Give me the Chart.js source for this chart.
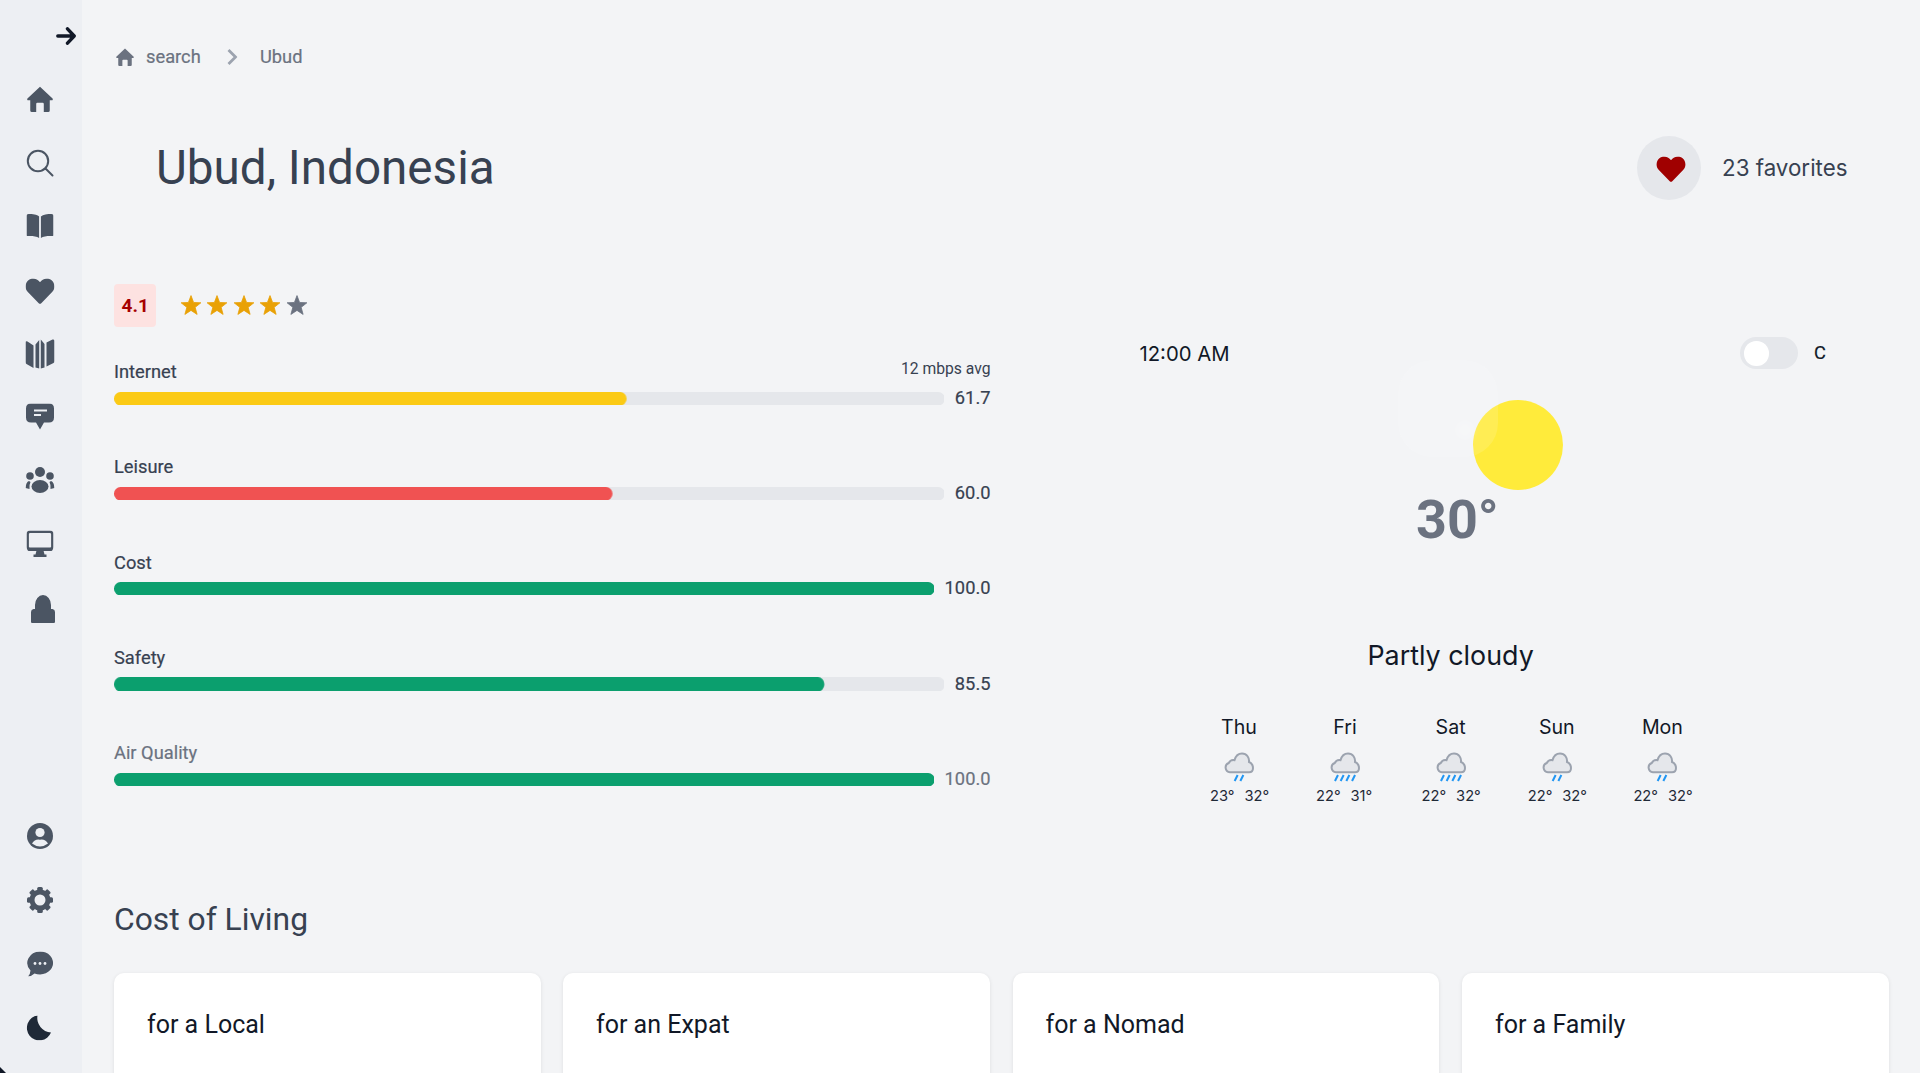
<!DOCTYPE html>
<html><head><meta charset="utf-8">
<script src="https://cdn.jsdelivr.net/npm/chart.js@4"></script>
<style>
html,body{margin:0;padding:0;width:1920px;height:1073px;overflow:hidden;background:#f3f4f6;font-family:Roboto,sans-serif;}
#side{position:absolute;left:0;top:0;width:82px;height:1073px;background:#edeff3;}
.t{position:absolute;line-height:1;white-space:nowrap;transform:translateY(-50%);}
.i{position:absolute;display:block;transform:translate(-50%,-50%);}
.row{position:absolute;left:114px;width:876.5px;height:14px;display:flex;align-items:center;}
.bar{flex:1;position:relative;height:13.4px;min-width:0;}
.val{margin-left:11px;font-size:18.3px;font-weight:400;-webkit-text-stroke:.2px currentColor;color:#374151;line-height:1;position:relative;top:-.5px;}
.card{position:absolute;top:973px;width:426.5px;height:140px;background:#fff;border-radius:10px;box-shadow:0 1px 4px rgba(0,0,0,.09);}
.in{font-family:Inter,sans-serif;}
</style></head><body>
<div id="side"></div>
<div id="page"></div>
<script>
const categories=['Internet','Leisure','Cost','Safety','Air Quality'];
const scores=[61.7,60.0,100.0,85.5,100.0];
const barColors=['#fbca15','#f05252','#0b9f6e','#0b9f6e','#0b9f6e'];
const labelColors=['#374151','#374151','#374151','#374151','#6b7280'];
const rowTops=[392,487,582,677.5,773];
const labelCenters=[372,467,562.5,657.5,753];
const days=['Thu','Fri','Sat','Sun','Mon'];
const dayLows=['23°','22°','22°','22°','22°'];
const dayHighs=['32°','31°','32°','32°','32°'];
const dayRain=[2,4,4,2,2];
const cards=['for a Local','for an Expat','for a Nomad','for a Family'];

const G='#4b5563';
const H='M462.3 62.6C407.5 15.9 326 24.3 275.7 76.2L256 96.5l-19.7-20.3C186.1 24.3 104.5 15.9 49.7 62.6c-62.8 53.6-66.1 149.8-9.9 207.9l193.5 199.8c12.5 12.9 32.8 12.9 45.3 0l193.5-199.8c56.3-58.1 53-154.3-9.8-207.9z';
const HOME='M12 .6 23.6 11.6Q24.4 13.200 22.500 13.200H21V22.500Q21 24 19.500 24H15.500V16.500Q15.500 15.500 14.500 15.500H9.500Q8.500 15.500 8.500 16.500V24H4.500Q3 24 3 22.500V13.200H1.500Q-.4 13.200 .4 11.600Z';
function svg(cx,cy,w,h,vb,inner){return `<svg class="i" style="left:${cx}px;top:${cy}px" width="${w}" height="${h}" viewBox="${vb}">${inner}</svg>`;}
function path(d,c,extra){return `<path d="${d}" fill="${c}" ${extra||''}/>`;}
function txt(s,x,y,size,color,extra){return `<div class="t" style="left:${x}px;top:${y}px;font-size:${size}px;color:${color};${extra||''}">${s}</div>`;}
function star(cx,cy,c){let p=[];for(let k=0;k<10;k++){const r=k%2?4.4:10.4,a=-Math.PI/2+k*Math.PI/5;p.push((r*Math.cos(a)).toFixed(2)+','+(r*Math.sin(a)).toFixed(2));}
  return svg(cx,cy,22,22,'-11 -11 22 22',`<polygon points="${p.join(' ')}" fill="${c}" stroke="${c}" stroke-width=".8" stroke-linejoin="round"/>`);}

let h='';
// sidebar icons
h+=svg(66,35.5,20,18,'0 0 20 18',`<path d="M1.8 9H18M11.500 1.800 18.200 9l-6.700 7.200" fill="none" stroke="#111827" stroke-width="3.400" stroke-linecap="round" stroke-linejoin="round"/>`);
h+=svg(40,98.5,26,26,'0 0 24 24',path(HOME,G));
h+=svg(40,163,28,28,'0 0 28 28',`<circle cx="12" cy="12" r="10.2" fill="none" stroke="${G}" stroke-width="2"/><path d="M19.5 19.5 26.5 26.5" stroke="${G}" stroke-width="2" stroke-linecap="round"/>`);
h+=svg(40,226,27,25,'0 0 27 25',`<path d="M0 2.2Q0 .6 2 .6C6 .6 10.5 1 12.6 3V24.5C10 22.6 5 22.4 1 22.6Q0 22.6 0 21.4ZM27 2.2Q27 .6 25 .6C21 .6 16.5 1 14.4 3V24.5C17 22.6 22 22.4 26 22.6Q27 22.6 27 21.4Z" fill="${G}"/>`);
h+=svg(40,291.5,29,27,'0 0 512 480',path(H,G,'transform="translate(0,-30)"'));
h+=svg(40,354,29,30,'0 0 29 30',`<path d="M0 3.500Q0 1.500 2 2.500L8 6.500V29L1 25Q0 24.400 0 23ZM10 5.500 13.700 1V29.500L10 28.500ZM15.300 .5 19 5V28.500L15.300 29.500ZM21 3.500 27 .6Q29 0 29 2V22Q29 23.400 28 24L21 27.500Z" fill="${G}"/>`);
h+=svg(40,417,28,27,'0 0 28 27',`<path d="M5 0H23Q28 0 28 5V14Q28 19 23 19H18L14 26 10 19H5Q0 19 0 14V5Q0 0 5 0Z" fill="${G}"/><path d="M8 7H21M8 11.500H15" stroke="#edeff3" stroke-width="1.800"/>`);
h+=svg(40,480,29,26,'0 0 29 26',`<circle cx="14.500" cy="5" r="5" fill="${G}"/><circle cx="4.500" cy="9" r="3.800" fill="${G}"/><circle cx="24.500" cy="9" r="3.800" fill="${G}"/><ellipse cx="14.500" cy="19.500" rx="8.500" ry="6.500" fill="${G}"/><path d="M0 21Q.5 15 3.500 14L5 15Q3.500 18 4 22ZM29 21Q28.500 15 25.500 14L24 15Q25.500 18 25 22Z" fill="${G}"/>`);
h+=svg(40,544,27,27,'0 0 27 27',`<rect x="1.200" y="1.200" width="24.600" height="17.600" rx="2.500" fill="none" stroke="${G}" stroke-width="2.400"/><path d="M10 20H17L18 24H20V26.500H7V24H9Z" fill="${G}"/><rect x="1" y="17" width="25" height="3.500" rx="1.500" fill="${G}"/>`);
h+=svg(43,609,25,28,'0 0 25 28',`<path d="M1.500 28Q.5 28 .5 26.500V17Q.5 14.500 3 14H4.500V10A8 10 0 0 1 20.500 10V14H22Q24.500 14.500 24.500 17V26.500Q24.500 28 23.500 28Z" fill="${G}"/>`);
h+=svg(40,836,26,26,'0 0 26 26',`<circle cx="13" cy="13" r="13" fill="${G}"/><circle cx="13" cy="9.500" r="4.600" fill="#edeff3"/><path d="M5 20.500Q8 15.800 13 16.800 18 15.800 21 20.500 17 23.500 13 23.500 9 23.500 5 20.500Z" fill="#edeff3"/>`);
h+=svg(40,899.5,26,26,'-13 -13 26 26',`<g fill="${G}">${[0,45,90,135,180,225,270,315].map(a=>`<rect x="-2.800" y="-13" width="5.600" height="6" rx="1.500" transform="rotate(${a})"/>`).join('')}</g><circle r="8" fill="none" stroke="${G}" stroke-width="5"/>`);
h+=svg(40,964,26,25,'0 0 26 25',`<path d="M13 0A13 11.500 0 1 1 7.500 21.900Q4 25 1 25 3.500 22 3.500 19A13 11.500 0 0 1 13 0Z" fill="${G}"/><circle cx="8" cy="12" r="1.400" fill="#edeff3"/><circle cx="13" cy="12" r="1.400" fill="#edeff3"/><circle cx="18" cy="12" r="1.400" fill="#edeff3"/>`);
h+=svg(39,1027.5,25,25,'0 0 25 25',`<path d="M11 0A12.500 12.500 0 1 0 24.500 17A14.500 14.500 0 0 1 11 0Z" fill="#1f2937"/>`);
h+=`<svg style="position:absolute;left:0;top:1067px" width="6" height="6" viewBox="0 0 6 6"><path d="M0 0 6 6H0Z" fill="#111827"/></svg>`;
// breadcrumb
h+=svg(124.7,56.5,18,18,'0 0 24 24',path(HOME,'#6b7280'));
h+=txt('search',146,56.5,18.3,'#6b7280','-webkit-text-stroke:.2px #6b7280;');
h+=svg(232,56.5,11,18,'0 0 11 18',`<path d="M2 2 9 9 2 16" fill="none" stroke="#9ca3af" stroke-width="2.800"/>`);
h+=txt('Ubud',260,56.5,18.3,'#6b7280','-webkit-text-stroke:.2px #6b7280;');
// title
h+=txt('Ubud, Indonesia',156,169,47.6,'#374151');
h+=`<div style="position:absolute;left:1637px;top:136px;width:64px;height:64px;border-radius:50%;background:#e5e7eb"></div>`;
h+=svg(1670.500,169.500,31,27,'0 0 512 480',path(H,'#a00000','transform="translate(0,-30)"'));
h+=txt('23 favorites',1722,167.5,22.35,'#374151','font-family:Inter,sans-serif;');
// rating
h+=`<div style="position:absolute;left:114px;top:284px;width:42px;height:43px;border-radius:4px;background:#fde2e1"></div>`;
h+=`<div class="t" style="left:121.5px;top:305px;font-size:19px;font-weight:700;color:#a60000;">4.1</div>`;
[191,217,243.500,270].forEach(x=>h+=star(x,306,'#e9a106'));h+=star(296.5,306,'#6b7280');
// rows
categories.forEach((c,i)=>{
  h+=txt(c,114,labelCenters[i],18.3,labelColors[i],`-webkit-text-stroke:.2px ${labelColors[i]};`);
  h+=`<div class="row" style="top:${rowTops[i]-0.3}px"><div class="bar"><canvas id="bar${i}"></canvas></div><div class="val" style="color:${labelColors[i]}">${scores[i].toFixed(1)}</div></div>`;
});
h+=`<div class="t" style="right:929.5px;top:369px;font-size:15.700px;color:#374151;">12 mbps avg</div>`;
// weather
h+=txt('12:00 AM',1139.500,353.5,20.3,'#111827','font-family:Inter,sans-serif;');
h+=`<div style="position:absolute;left:1740px;top:337px;width:58px;height:32px;border-radius:16px;background:#e5e7eb"></div>`;
h+=`<div style="position:absolute;left:1744px;top:341px;width:24.500px;height:24.500px;border-radius:50%;background:#fff"></div>`;
h+=txt('C',1814,353,18.3,'#111827','-webkit-text-stroke:.2px #111827;');
h+=`<div style="position:absolute;left:1473px;top:400px;width:89.500px;height:90px;border-radius:50%;background:#ffeb3b"></div>`;
h+=`<div style="position:absolute;left:1398px;top:360px;width:100px;height:97px;border-radius:34px;background:rgba(255,255,255,.13)"></div>`;
h+=`<div style="position:absolute;left:1455px;top:420px;width:20px;height:20px;border-radius:50%;background:rgba(255,255,255,.2);filter:blur(3px)"></div>`;
h+=txt('30°',1416,520,53.900,'#6b7280','font-weight:700;');
h+=`<div class="t" style="left:1450.600px;top:654.5px;font-size:26.85px;color:#111827;font-family:Inter,sans-serif;transform:translate(-50%,-50%)">Partly cloudy</div>`;
const dayX=[1239,1345,1450.600,1556.800,1662.400];
days.forEach((d,i)=>{
  const x=dayX[i];
  h+=`<div class="t in" style="left:${x}px;top:727.5px;font-size:19.600px;color:#111827;transform:translate(-50%,-50%)">${d}</div>`;
  let rain='';for(let k=0;k<dayRain[i];k++){const o=15-(dayRain[i]-1)*2.85+k*5.7;rain+=`<path d="M${o-1.500} 29 ${o+1.500} 23" stroke="#2196f3" stroke-width="2"/>`;}
  h+=svg(x,767,32,30,'0 0 30 30',`<path d="M6 20.300A4.800 4.800 0 0 1 4.800 11C6 8.500 8.500 7.800 10.500 8.200 12 3 15.500 1.500 18 1.500 23 1.500 25.500 6 25 10 28.500 11.500 29 14.500 29 16 29 19 27 20.300 25 20.300Z" fill="#e5e7eb" stroke="#9ca3af" stroke-width="2"/>${rain}`);
  h+=`<div class="t in" style="left:${x-29}px;top:796px;font-size:14.700px;color:#1f2937;">${dayLows[i]}</div>`;
  h+=`<div class="t in" style="left:${x+5.5}px;top:796px;font-size:14.700px;color:#1f2937;">${dayHighs[i]}</div>`;
});
// cost of living
h+=txt('Cost of Living',114,920,31.8,'#374151');
const cardX=[114,563,1012.500,1462];
cards.forEach((c,i)=>{h+=`<div class="card" style="left:${cardX[i]}px"></div>`;h+=txt(c,cardX[i]+33,1024,25,'#111827');});
document.getElementById('page').innerHTML=h;

categories.forEach((c,i)=>{
  new Chart(document.getElementById('bar'+i),{
    type:'bar',
    data:{labels:[c],datasets:[
      {label:c,data:[scores[i]],backgroundColor:barColors[i],order:1,grouped:false},
      {label:'track',data:[100],backgroundColor:'#e5e7eb',order:2,grouped:false}
    ]},
    options:{
      indexAxis:'y',responsive:true,maintainAspectRatio:false,animation:false,
      layout:{padding:0},
      datasets:{bar:{barPercentage:1,categoryPercentage:1,borderRadius:6.5,borderSkipped:false,inflateAmount:0}},
      scales:{x:{display:false,min:0,max:100},y:{display:false}},
      plugins:{legend:{display:false},tooltip:{enabled:false}}
    }
  });
});
</script>
</body></html>
